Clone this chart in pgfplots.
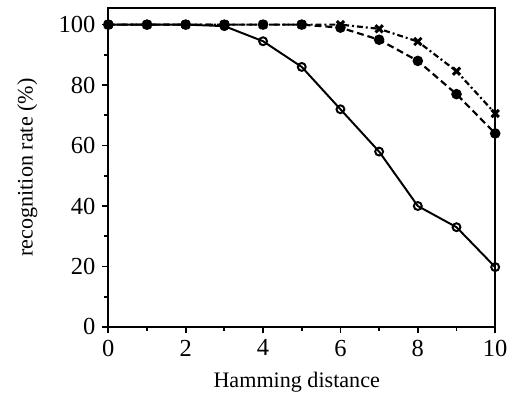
\documentclass[border=0pt]{standalone}
\usepackage{pgfplots}
\pgfplotsset{compat=1.18}
\usepackage{fontspec}
\setmainfont{Liberation Serif}
\begin{document}
\begin{tikzpicture}
\begin{axis}[
    scale only axis,
    width=196pt, height=161.6pt,
    xmin=0, xmax=10, ymin=0, ymax=105.5,
    xtick={0,2,4,6,8,10},
    ytick={0,20,40,60,80,100},
    minor xtick={1,3,5,7,9},
    minor ytick={10,30,50,70,90},
    tick align=outside,
    xtick pos=bottom, ytick pos=left,
    major tick length=3pt, minor tick length=2pt,
    axis line style={line width=1pt},
    tick style={line width=0.9pt, black},
    xlabel={Hamming distance},
    ylabel={recognition rate (\%)},
    xlabel style={at={(axis description cs:0.487,-0.172)}, anchor=center},
    ylabel style={at={(axis description cs:-0.209,0.5)}, anchor=center},
    tick label style={font=\fontsize{12.4}{15}\selectfont},
    label style={font=\fontsize{11.2}{13}\selectfont},
    /pgf/number format/assume math mode=true,
    clip=false,
]
% solid, open circles
\addplot[black, line width=1pt, mark=o, mark size=2pt, mark options={solid, fill=white}] coordinates {
    (0,100) (1,100) (2,100) (3,99.5) (4,94.5) (5,86) (6,72)
    (7,58) (8,40) (9,33) (10,19.8)
};
% dashed, filled circles
\addplot[black, line width=1.1pt, dash pattern=on 3.5pt off 2pt, mark=*, mark size=2.1pt, mark options={solid}] coordinates {
    (0,100) (1,100) (2,100) (3,100) (4,100) (5,100) (6,99)
    (7,95) (8,88) (9,77) (10,64)
};
% dash-dot, crosses
\addplot[black, line width=1.1pt, dash pattern=on 3pt off 1.5pt on 1pt off 1.5pt, mark=x, mark size=2.6pt, mark options={solid, line width=1.5pt}] coordinates {
    (0,100) (1,100) (2,100) (3,100) (4,100) (5,100) (6,100)
    (7,98.6) (8,94.4) (9,84.6) (10,70.6)
};
% page margins as in the reference
\path (axis description cs:-0.28,1.025) (axis description cs:1.03,-0.225);
\end{axis}
\end{tikzpicture}
\end{document}
